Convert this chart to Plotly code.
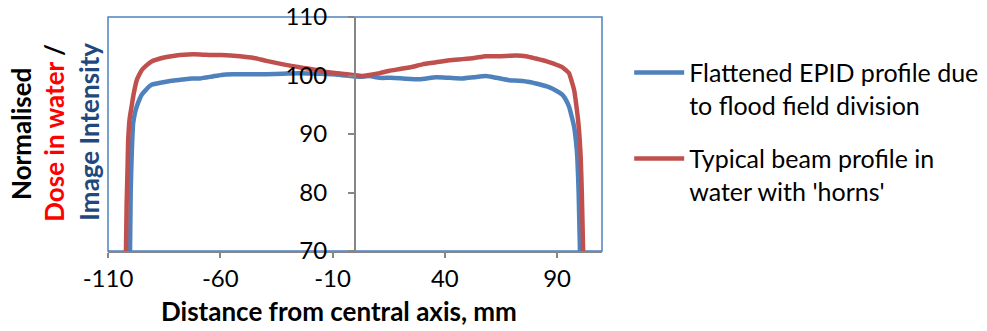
import plotly.graph_objects as go

# Flattened EPID profile (blue)
epid_x = [-100.2, -99.9, -99.4, -98.8, -98.0, -97.2, -96.0, -95.0, -93.0, -90.6, -86.0, -81.7, -77.0,
          -72.8, -69.1, -64.0, -59.5, -54.3, -47.0, -39.5, -32.0, -24.7, -17.0, -9.9, -4.0, 2.0, 6.4,
          10.9, 16.0, 21.2, 28.7, 36.1, 42.0, 47.9, 53.0, 58.3, 63.0, 68.7, 73.0, 77.6, 82.0, 86.4,
          90.0, 92.4, 94.0, 95.3, 96.5, 97.6, 98.4, 99.0, 99.6, 100.2]
epid_y = [70, 80, 87, 91.8, 93.6, 94.7, 95.9, 96.7, 97.6, 98.4, 98.8, 99.1, 99.3,
          99.5, 99.5, 99.8, 100.1, 100.2, 100.2, 100.2, 100.3, 100.4, 100.3, 100.2, 100.0, 99.8, 99.9,
          99.6, 99.6, 99.5, 99.35, 99.7, 99.6, 99.5, 99.7, 99.9, 99.6, 99.2, 99.1, 98.9, 98.5, 98.0,
          97.3, 96.7, 95.8, 94.7, 93.0, 91.2, 88.8, 86.1, 80, 70]

# Typical beam profile in water (red)
water_x = [-102.0, -101.7, -101.3, -101.0, -100.4, -99.5, -98.5, -97.2, -96.0, -95.0, -93.0, -90.6,
           -86.0, -81.7, -78.0, -74.3, -69.1, -64.0, -59.5, -51.3, -45.0, -39.5, -32.0, -24.7, -18.0,
           -12.8, -6.0, -1.0, 3.4, 6.4, 10.9, 15.3, 20.0, 25.7, 30.0, 36.1, 42.0, 47.9, 53.0, 58.3,
           64.2, 71.6, 76.1, 80.5, 86.4, 90.0, 92.4, 94.0, 95.3, 96.5, 97.6, 98.6, 99.5, 100.5, 101.0, 101.6]
water_y = [70, 78, 84, 89, 92.5, 94.7, 97.0, 99.2, 100.2, 100.9, 101.7, 102.4,
           103.0, 103.3, 103.5, 103.6, 103.6, 103.5, 103.5, 103.3, 103.0, 102.5, 101.9, 101.4, 101.0,
           100.6, 100.3, 100.1, 99.9, 100.1, 100.4, 100.8, 101.1, 101.5, 101.9, 102.25, 102.6, 102.8, 103.0, 103.3,
           103.3, 103.4, 103.3, 102.9, 102.3, 101.8, 101.4, 100.9, 100.4, 99.0, 97.5, 94.8, 91.8, 86.1, 80.0, 70]

series_names = ["Flattened EPID profile due<br>to flood field division",
                "Typical beam profile in<br>water with 'horns'"]
x_ticks = [-110, -60, -10, 40, 90]
y_ticks = [70, 80, 90, 100, 110]

FONT = "Lato"
BLUE = "#4F81BD"
RED = "#C0504D"
GRAY = "#868686"

fig = go.Figure()
fig.add_trace(go.Scatter(x=epid_x, y=epid_y, mode="lines", name=series_names[0],
                         legendgroup="a", line=dict(color=BLUE, width=4.5, shape="spline", smoothing=0.5)))
fig.add_trace(go.Scatter(x=water_x, y=water_y, mode="lines", name=series_names[1],
                         legendgroup="b", line=dict(color=RED, width=4.5, shape="spline", smoothing=0.5)))

fig.update_layout(
    width=987, height=331,
    margin=dict(l=108, r=385, t=17, b=80, autoexpand=False),
    paper_bgcolor="white", plot_bgcolor="white",
    font=dict(family=FONT, size=24, color="black"),
    showlegend=True,
    legend=dict(x=1.055, y=0.86, xanchor="left", yanchor="top", valign="top",
                font=dict(family=FONT, size=25, color="black"),
                itemwidth=50, tracegroupgap=18, traceorder="grouped",
                bgcolor="rgba(0,0,0,0)"),
    xaxis=dict(range=[-110, 110], tickmode="array", tickvals=x_ticks,
               ticktext=[str(v) for v in x_ticks],
               showgrid=False, zeroline=False, showline=True, linecolor=GRAY, linewidth=2,
               ticks="outside", ticklen=5, tickcolor=GRAY, tickwidth=1.5,
               tickfont=dict(family=FONT, size=24, color="black"), ticklabelstandoff=0),
    yaxis=dict(range=[70, 110], tickmode="array", tickvals=y_ticks,
               ticktext=[str(v) for v in y_ticks],
               anchor="free", position=0.5,
               showgrid=False, zeroline=False, showline=True, linecolor=GRAY, linewidth=2,
               ticks="outside", ticklen=6, tickcolor=GRAY, tickwidth=1.5,
               tickfont=dict(family=FONT, size=24, color="black"), ticklabelstandoff=16),
    shapes=[dict(type="rect", xref="x domain", yref="y domain", x0=0, x1=1, y0=0, y1=1,
                 line=dict(color=BLUE, width=1.5), layer="below")],
    annotations=[
        dict(text="<b>Distance from central axis, mm</b>", xref="paper", yref="paper",
             x=(339 - 108) / 494, y=(251 - 311) / 234, xanchor="center", yanchor="middle",
             showarrow=False, font=dict(family=FONT, size=26, color="black")),
        dict(text="<b>Normalised</b>", xref="paper", yref="paper",
             x=(21 - 108) / 494, y=0.5, textangle=-90, xanchor="center", yanchor="middle",
             showarrow=False, font=dict(family=FONT, size=26, color="black")),
        dict(text="<b><span style='color:#FF0000'>Dose in water</span> /</b>", xref="paper", yref="paper",
             x=(54 - 108) / 494, y=0.505, textangle=-90, xanchor="center", yanchor="middle",
             showarrow=False, font=dict(family=FONT, size=26, color="black")),
        dict(text="<b>Image Intensity</b>", xref="paper", yref="paper",
             x=(89 - 108) / 494, y=0.51, textangle=-90, xanchor="center", yanchor="middle",
             showarrow=False, font=dict(family=FONT, size=26, color="#1F497D")),
    ],
)

fig.write_html("out.html")
